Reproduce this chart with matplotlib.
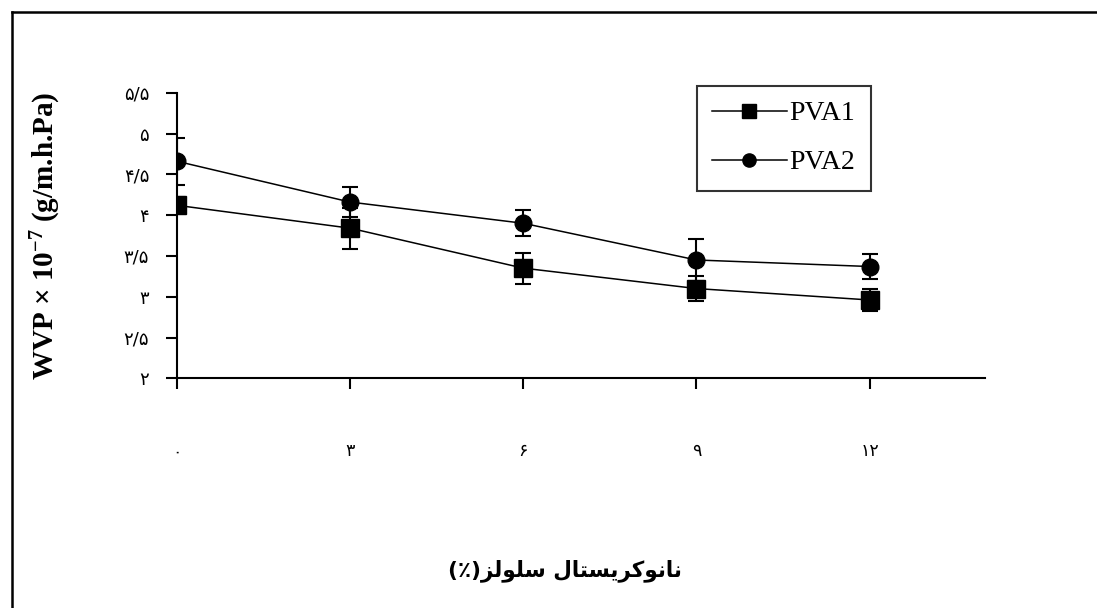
import matplotlib
matplotlib.use('Agg')
import matplotlib.pyplot as plt
from matplotlib.lines import Line2D

# nanocrystal cellulose content (%)
x = [0, 3, 6, 9, 12]
pva1 = [4.12, 3.84, 3.35, 3.10, 2.96]
pva1_err = [0.10, 0.25, 0.19, 0.15, 0.14]
pva2 = [4.66, 4.16, 3.90, 3.45, 3.37]
pva2_err = [0.29, 0.18, 0.16, 0.26, 0.15]

xtick_labels = ['۰', '۳', '۶', '۹', '۱۲']
yticks = [2, 2.5, 3, 3.5, 4, 4.5, 5, 5.5]
ytick_labels = ['۲', '۲/۵', '۳', '۳/۵', '۴', '۴/۵', '۵', '۵/۵']

# "نانوکریستال سلولز(٪)" written in shaped, visual order
xlabel = ('(\u066A)' + '\uFEB0\uFEDF\uFEEE\uFEE0\uFEB3' + ' '
          + '\uFEDD\uFE8E\uFE98\uFEB4\uFBFE\uFEAE\uFB90\uFEEE\uFEE7\uFE8E\uFEE7')

plt.rcParams['mathtext.fontset'] = 'custom'
plt.rcParams['mathtext.rm'] = 'Liberation Serif:bold'
plt.rcParams['mathtext.default'] = 'rm'

fig = plt.figure(figsize=(10.97, 6.08), dpi=100)
ax = fig.add_axes([0.1613, 0.3778, 0.7366, 0.4697])

# outer frame (only left and top edges fall inside the image)
fx = 12 / 1097
fy = 1 - 12 / 608
fig.add_artist(Line2D([fx, fx], [0, fy], transform=fig.transFigure, color='black', linewidth=1.8))
fig.add_artist(Line2D([fx, 1], [fy, fy], transform=fig.transFigure, color='black', linewidth=1.8))

ax.errorbar(x, pva1, yerr=pva1_err, color='black', marker='s', markersize=12.5,
            linewidth=1.1, capsize=6, capthick=1.5, elinewidth=1.5)
ax.errorbar(x, pva2, yerr=pva2_err, color='black', marker='o', markersize=12,
            linewidth=1.1, capsize=6, capthick=1.5, elinewidth=1.5)

ax.set_xlim(0, 14)
ax.set_ylim(2, 5.5)
ax.set_xticks(x)
ax.set_xticklabels(xtick_labels, family=['DejaVu Sans'], fontsize=12.5)
ax.set_yticks(yticks)
ax.set_yticklabels(ytick_labels, family=['DejaVu Sans'], fontsize=13)
ax.tick_params(axis='x', direction='out', length=8, width=1.5, pad=38)
ax.tick_params(axis='y', direction='out', length=8, width=1.5, pad=12)

for side in ['top', 'right']:
    ax.spines[side].set_visible(False)
for side in ['left', 'bottom']:
    ax.spines[side].set_linewidth(1.5)

ax.set_ylabel('WVP × 10$^{-7}$ (g/m.h.Pa)', family='Liberation Serif',
              fontweight='bold', fontsize=21, labelpad=44)

fig.text(0.515, 0.062, xlabel, family=['DejaVu Sans'], fontweight='bold',
         fontsize=15.5, ha='center', va='center')

handles = [Line2D([], [], color='black', marker='s', markersize=10, linewidth=1.1),
           Line2D([], [], color='black', marker='o', markersize=9.5, linewidth=1.1)]
leg = ax.legend(handles, ['PVA1', 'PVA2'], loc='upper left', bbox_to_anchor=(0.643, 1.025),
                frameon=True, fancybox=False, edgecolor='black',
                prop={'family': 'Liberation Serif', 'size': 20},
                handlelength=2.7, handletextpad=0.1, labelspacing=0.85, borderpad=0.55,
                borderaxespad=0)
leg.get_frame().set_linewidth(1.5)

fig.savefig('out.png', dpi=100)
